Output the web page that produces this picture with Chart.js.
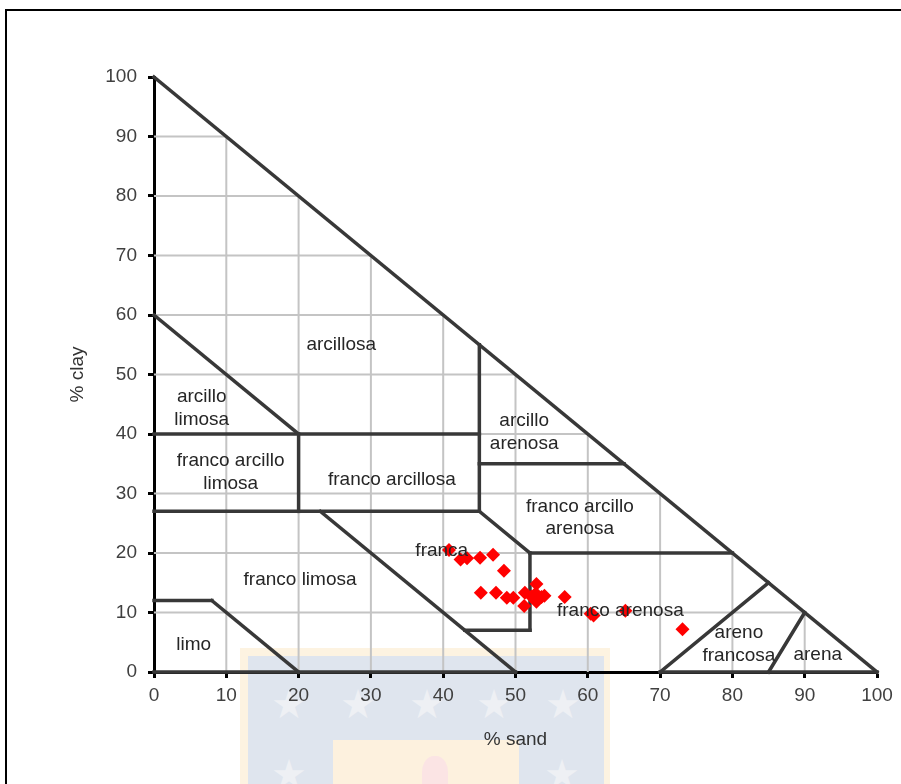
<!DOCTYPE html>
<html>
<head>
<meta charset="utf-8">
<script src="https://cdn.jsdelivr.net/npm/chart.js@4.4.1/dist/chart.umd.min.js"></script>
<style>
  html, body { margin: 0; padding: 0; background: #fff; overflow: hidden; }
  #wrap { position: relative; width: 901px; height: 784px; overflow: hidden; }
  #frame { position: absolute; left: 5px; top: 9px; width: 1000px; height: 1000px; border: 2px solid #000; box-sizing: border-box; }
  .wm { position: absolute; }
  .star { position: absolute; font-family: "DejaVu Sans"; font-size: 40px; color: #eef0f4; line-height: 1; transform: translate(-50%, -50%); }
  #c { position: absolute; left: 0; top: 0; }
</style>
</head>
<body>
<div id="wrap">
  <div id="frame"></div>
  <!-- faint background watermark -->
  <div class="wm" style="left:240px; top:648px; width:370px; height:140px; background:#fdf3e1;"></div>
  <div class="wm" style="left:248px; top:656px; width:356px; height:132px; background:#dfe5ee;"></div>
  <div class="wm" style="left:333px; top:740px; width:186px; height:50px; background:#fdf1de;"></div>
  <div class="wm" style="left:422px; top:756px; width:26px; height:36px; background:#fbe4e4; border-radius:45% 45% 0 0;"></div>
  <div class="star" style="left:289px; top:704px;">★</div>
  <div class="star" style="left:358px; top:704px;">★</div>
  <div class="star" style="left:427px; top:704px;">★</div>
  <div class="star" style="left:494px; top:704px;">★</div>
  <div class="star" style="left:563px; top:704px;">★</div>
  <div class="star" style="left:289px; top:774px;">★</div>
  <div class="star" style="left:562px; top:774px;">★</div>
  <canvas id="c" width="901" height="784"></canvas>
</div>
<script>
// ---- data ----
const sandValues = [40.8, 42.4, 43.3, 45.1, 46.9, 48.4, 45.2, 47.3, 48.8, 49.7, 51.3, 51.2, 52.9, 52.8, 53.6, 54.0, 52.9, 52.2, 56.8, 60.4, 60.8, 65.2, 73.1];
const clayValues = [20.5, 18.9, 19.1, 19.2, 19.7, 17.0, 13.3, 13.3, 12.5, 12.5, 13.3, 11.1, 14.8, 13.2, 12.6, 12.8, 11.8, 12.7, 12.6, 9.8, 9.5, 10.3, 7.2];

const axisTicks = [0, 10, 20, 30, 40, 50, 60, 70, 80, 90, 100];

// texture class boundary segments: [sand1, clay1, sand2, clay2]
const boundaries = [
  [0, 100, 100, 0],
  [0, 0, 50, 0],
  [70, 0, 100, 0],
  [0, 60, 20, 40],
  [0, 40, 45, 40],
  [45, 27, 45, 55],
  [45, 35, 65, 35],
  [0, 27, 45, 27],
  [20, 27, 20, 40],
  [45, 27, 52, 20],
  [52, 20, 80, 20],
  [52, 20, 52, 7],
  [43, 7, 52, 7],
  [23, 27, 50, 0],
  [0, 12, 8, 12],
  [8, 12, 20, 0],
  [70, 0, 85, 15],
  [85, 0, 90, 10]
];

const regionNames = ["arcillosa", "arcillo\nlimosa", "arcillo\narenosa", "franco arcillo\nlimosa", "franco arcillosa",
  "franco arcillo\narenosa", "franca", "franco limosa", "franco arenosa", "limo", "areno\nfrancosa", "arena"];
const regionSand = [25.9, 6.6, 51.2, 10.6, 32.9, 58.9, 39.8, 20.2, 64.5, 5.5, 80.9, 91.8];
const regionClay = [55.0, 44.3, 40.3, 33.6, 32.3, 25.9, 20.3, 15.5, 10.3, 4.6, 4.7, 2.9];

// ---- datasets ----
const pts = sandValues.map((s, i) => ({ x: s, y: clayValues[i] }));
const datasets = [{
  type: 'scatter', data: pts, order: 0,
  pointStyle: 'rectRot', pointRadius: 7, pointHoverRadius: 7,
  backgroundColor: '#ff0000', borderColor: '#ff0000', borderWidth: 0, clip: false
}];
boundaries.forEach(b => datasets.push({
  type: 'line', data: [{ x: b[0], y: b[1] }, { x: b[2], y: b[3] }], order: 1,
  borderColor: '#383838', borderWidth: 3.5, pointRadius: 0, clip: false, borderCapStyle: 'square'
}));
axisTicks.filter(t => t > 0 && t < 100).forEach(t => {
  datasets.push({ type: 'line', data: [{ x: t, y: 0 }, { x: t, y: 100 - t }], order: 2,
    borderColor: '#c4c4c4', borderWidth: 2, pointRadius: 0 });
  datasets.push({ type: 'line', data: [{ x: 0, y: t }, { x: 100 - t, y: t }], order: 2,
    borderColor: '#c4c4c4', borderWidth: 2, pointRadius: 0 });
});

const labelPlugin = {
  id: 'regionLabels',
  afterDatasetsDraw(chart) {
    const { ctx, scales: { x, y } } = chart;
    ctx.save();
    ctx.font = '19px "Liberation Sans", Arial, sans-serif';
    ctx.fillStyle = '#262626';
    ctx.textAlign = 'center';
    ctx.textBaseline = 'middle';
    regionNames.forEach((name, i) => {
      const lines = name.split('\n');
      const px = x.getPixelForValue(regionSand[i]);
      const py = y.getPixelForValue(regionClay[i]);
      const lh = 22.5;
      lines.forEach((ln, j) => {
        ctx.fillText(ln, px, py + (j - (lines.length - 1) / 2) * lh);
      });
    });
    ctx.restore();
  }
};

Chart.defaults.font.family = '"Liberation Sans", Arial, sans-serif';
Chart.defaults.font.size = 19;
Chart.defaults.color = '#404040';

new Chart(document.getElementById('c'), {
  data: { datasets },
  options: {
    responsive: false, animation: false,
    events: [],
    layout: { padding: { left: 66, right: 24, top: 77, bottom: 33 } },
    plugins: { legend: { display: false }, tooltip: { enabled: false } },
    scales: {
      x: {
        type: 'linear', min: 0, max: 100,
        ticks: { stepSize: 10, padding: 6, color: '#404040' },
        afterBuildTicks: s => { s.ticks = axisTicks.map(v => ({ value: v })); },
        grid: { drawOnChartArea: false, tickLength: 6, tickWidth: 3, tickColor: '#000' },
        border: { color: '#000', width: 3 },
        title: { display: true, text: '% sand', color: '#333', padding: 0, font: { size: 19 } },
        afterFit: s => { s.height = 79; }
      },
      y: {
        type: 'linear', min: 0, max: 100,
        ticks: { stepSize: 10, padding: 11, color: '#404040' },
        afterBuildTicks: s => { s.ticks = axisTicks.map(v => ({ value: v })); },
        grid: { drawOnChartArea: false, tickLength: 6, tickWidth: 3, tickColor: '#000' },
        border: { color: '#000', width: 3 },
        title: { display: true, text: '% clay', color: '#333', padding: 0, font: { size: 19 } },
        afterFit: s => { s.width = 88; }
      }
    }
  },
  plugins: [labelPlugin]
});
</script>
</body>
</html>
